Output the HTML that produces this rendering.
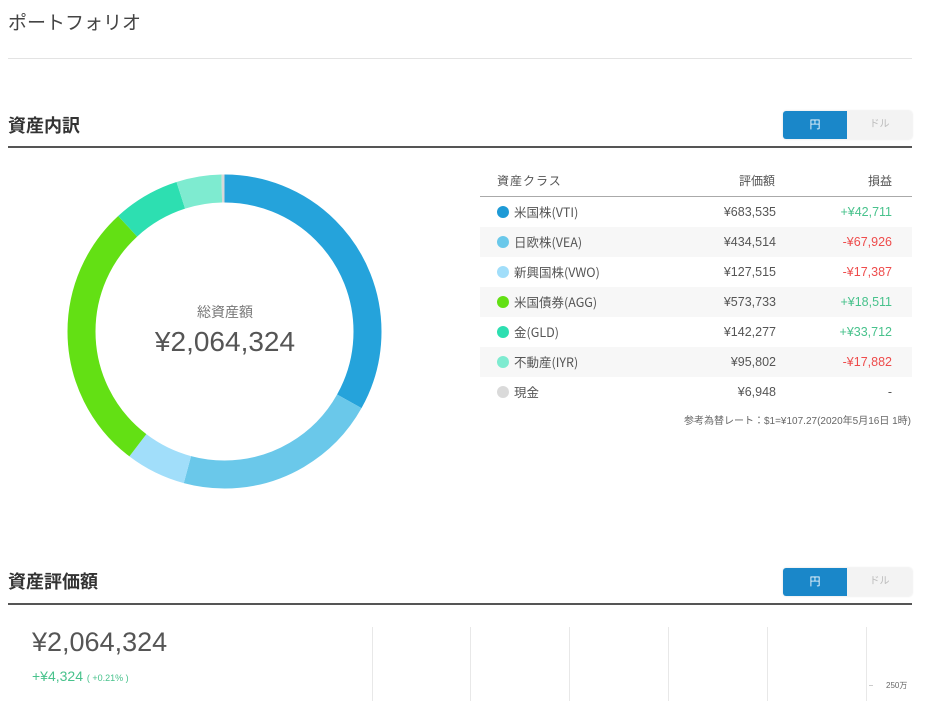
<!DOCTYPE html>
<html><head><meta charset="utf-8"><style>
*{margin:0;padding:0;box-sizing:border-box}
body{width:931px;height:701px;background:#fff;position:relative;overflow:hidden;font-family:"Liberation Sans","Noto Sans CJK JP",sans-serif;color:#333}
.a{position:absolute;white-space:nowrap}
.tg{position:absolute;width:129px;height:28px;border-radius:3px;overflow:hidden;box-shadow:0 0 2px #ddd}
.tg .b{position:absolute;left:0;top:0;width:64px;height:28px;background:#1a87c9;color:#fff;font-size:11px;text-align:center;line-height:28px}
.tg .g{position:absolute;left:64px;top:0;width:65px;height:28px;background:#f3f3f3;color:#bbb;font-size:10px;text-align:center;line-height:28px}
.row{position:absolute;left:480px;width:432px;height:30px;font-size:12.5px;color:#555;line-height:30px}
.row.s{background:#f7f7f7}
.row .d{position:absolute;left:17px;top:9px;width:12px;height:12px;border-radius:50%}
.row .n{position:absolute;left:34px;top:0;height:30px;line-height:30px;font-family:"Noto Sans CJK JP","Liberation Sans",sans-serif;font-size:12.5px}
.row .v{position:absolute;right:136px;top:0}
.row .p{position:absolute;right:20px;top:0}
.up{color:#48c28c}.dn{color:#ee4c4c}
.vl{position:absolute;top:627px;width:1px;height:74px;background:#e8e8e8}
</style></head><body>
<div class="a" style="left:8px;top:8px;font-size:19px;color:#444">ポートフォリオ</div>
<div class="a" style="left:8px;top:58px;width:904px;height:1px;background:#e3e3e3"></div>

<div class="a" style="left:8px;top:112px;font-size:18px;font-weight:bold;color:#333">資産内訳</div>
<div class="tg" style="left:783px;top:111px"><div class="b">円</div><div class="g">ドル</div></div>
<div class="a" style="left:8px;top:146px;width:904px;height:2px;background:#555"></div>

<svg class="a" style="left:0;top:0" width="460" height="520">
<g fill="none" stroke-width="28" transform="translate(224.5,331.5) rotate(-90)">
<circle r="143" stroke="#25a3db" stroke-dasharray="297.5 1000" stroke-dashoffset="0"/>
<circle r="143" stroke="#6ac8ea" stroke-dasharray="189.1 1000" stroke-dashoffset="-297.5"/>
<circle r="143" stroke="#a1defa" stroke-dasharray="55.5 1000" stroke-dashoffset="-486.6"/>
<circle r="143" stroke="#63e014" stroke-dasharray="249.7 1000" stroke-dashoffset="-542.1"/>
<circle r="143" stroke="#2ddfb1" stroke-dasharray="61.9 1000" stroke-dashoffset="-791.8"/>
<circle r="143" stroke="#7eebd0" stroke-dasharray="41.7 1000" stroke-dashoffset="-853.7"/>
<circle r="143" stroke="#d8d8d8" stroke-dasharray="3.1 1000" stroke-dashoffset="-895.4"/>
</g>
<text x="225" y="317" text-anchor="middle" font-size="14" fill="#777" font-family="Liberation Sans,Noto Sans CJK JP,sans-serif">総資産額</text>
<text x="225" y="351" text-anchor="middle" font-size="28" fill="#555" font-family="Liberation Sans,Noto Sans CJK JP,sans-serif">¥2,064,324</text>
</svg>

<div class="a" style="left:497px;top:172px;font-size:12px;color:#555;letter-spacing:1px">資産クラス</div>
<div class="a" style="right:156px;top:172px;font-size:12px;color:#555">評価額</div>
<div class="a" style="right:39px;top:172px;font-size:12px;color:#555">損益</div>
<div class="a" style="left:480px;top:196px;width:432px;height:1px;background:#aaa"></div>

<div class="row" style="top:197px"><div class="d" style="background:#1e9ad6"></div><div class="n">米国株(VTI)</div><div class="v">¥683,535</div><div class="p up">+¥42,711</div></div>
<div class="row s" style="top:227px"><div class="d" style="background:#6ac8ea"></div><div class="n">日欧株(VEA)</div><div class="v">¥434,514</div><div class="p dn">-¥67,926</div></div>
<div class="row" style="top:257px"><div class="d" style="background:#a1defa"></div><div class="n">新興国株(VWO)</div><div class="v">¥127,515</div><div class="p dn">-¥17,387</div></div>
<div class="row s" style="top:287px"><div class="d" style="background:#63e014"></div><div class="n">米国債券(AGG)</div><div class="v">¥573,733</div><div class="p up">+¥18,511</div></div>
<div class="row" style="top:317px"><div class="d" style="background:#2ddfb1"></div><div class="n">金(GLD)</div><div class="v">¥142,277</div><div class="p up">+¥33,712</div></div>
<div class="row s" style="top:347px"><div class="d" style="background:#7eebd0"></div><div class="n">不動産(IYR)</div><div class="v">¥95,802</div><div class="p dn">-¥17,882</div></div>
<div class="row" style="top:377px"><div class="d" style="background:#dadada"></div><div class="n">現金</div><div class="v">¥6,948</div><div class="p">-</div></div>
<div class="a" style="right:20px;top:412px;font-size:10px;color:#666">参考為替レート：$1=¥107.27(2020年5月16日 1時)</div>

<div class="a" style="left:8px;top:568px;font-size:18px;font-weight:bold;color:#333">資産評価額</div>
<div class="tg" style="left:783px;top:568px"><div class="b">円</div><div class="g">ドル</div></div>
<div class="a" style="left:8px;top:603px;width:904px;height:2px;background:#555"></div>

<div class="a" style="left:32px;top:627px;font-size:27px;color:#555">¥2,064,324</div>
<div class="a" style="left:32px;top:668px;font-size:14px;color:#48c28c">+¥4,324 <span style="font-size:9px">( +0.21% )</span></div>
<div class="vl" style="left:372px"></div><div class="vl" style="left:470px"></div><div class="vl" style="left:569px"></div><div class="vl" style="left:668px"></div><div class="vl" style="left:767px"></div><div class="vl" style="left:866px"></div>
<div class="a" style="left:869px;top:685px;width:4px;height:1px;background:#ccc"></div>
<div class="a" style="left:886px;top:680px;font-size:8px;color:#666">250万</div>
</body></html>
